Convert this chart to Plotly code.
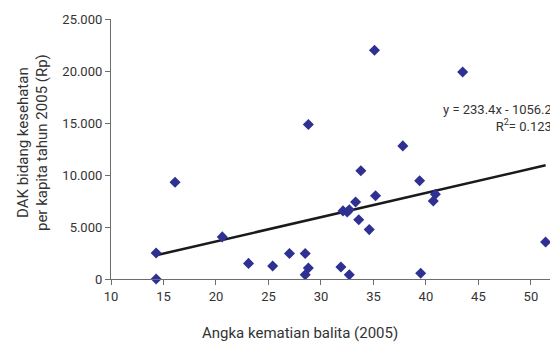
import plotly.graph_objects as go

# Angka kematian balita (2005) vs DAK bidang kesehatan per kapita (Rp)
kematian_balita = [14.3, 14.3, 16.1, 20.6, 23.1, 25.4, 27.0, 28.5, 28.5, 28.8,
                   28.8, 31.9, 32.1, 32.5, 32.7, 32.7, 33.3, 33.6, 33.8, 34.6,
                   35.1, 35.2, 37.8, 39.4, 39.5, 40.7, 40.9, 43.5, 51.4]
dak_per_kapita = [2500, 0, 9300, 4050, 1500, 1250, 2450, 2450, 400, 1050,
                  14850, 1150, 6550, 6450, 6650, 400, 7400, 5700, 10400, 4750,
                  22000, 8000, 12800, 9450, 550, 7500, 8150, 19900, 3550]

# trend line as printed on the chart
slope, intercept = 233.4, -1056.2
trend_x = [14.3, 51.4]
trend_y = [slope * x + intercept for x in trend_x]

x_ticks = [10, 15, 20, 25, 30, 35, 40, 45, 50]
y_ticks = [0, 5000, 10000, 15000, 20000, 25000]

font_family = "Roboto, sans-serif"
text_color = "#333333"
axis_color = "#6d6d6d"

# page body has an 8px margin, so the figure is shrunk to fit the window
W, H = 550, 336
ML, MR, MT, MB = 103, 4, 9, 65
plot_w = W - ML - MR
plot_h = H - MT - MB

fig = go.Figure()

fig.add_trace(go.Scatter(
    x=trend_x, y=trend_y, mode="lines",
    line=dict(color="#1a1a1a", width=2.5),
    showlegend=False, hoverinfo="skip",
))

fig.add_trace(go.Scatter(
    x=kematian_balita, y=dak_per_kapita, mode="markers",
    marker=dict(symbol="diamond", size=8.5, color="#2e3192"),
    cliponaxis=False, showlegend=False,
))

fig.add_annotation(
    x=1.0, y=(279 - 117) / plot_h, xref="paper", yref="paper",
    xanchor="right", yanchor="middle",
    text="y = 233.4x - 1056.2<br>R<sup>2</sup>= 0.123", align="right",
    showarrow=False, font=dict(size=13, color=text_color, family=font_family),
)

fig.add_annotation(
    x=(300 - 111) / plot_w, y=-(333 - 279) / plot_h, xref="paper", yref="paper",
    xanchor="center", yanchor="middle", text="Angka kematian balita (2005)",
    showarrow=False, font=dict(size=15, color=text_color, family=font_family),
)

fig.add_annotation(
    x=-(111 - 33) / plot_w, y=(279 - 142) / plot_h, xref="paper", yref="paper",
    xanchor="center", yanchor="middle", textangle=-90,
    text="DAK bidang kesehatan<br>per kapita tahun 2005 (Rp)",
    showarrow=False, font=dict(size=15, color=text_color, family=font_family),
)

fig.update_layout(
    width=W, height=H,
    margin=dict(l=ML, r=MR, t=MT, b=MB),
    paper_bgcolor="white", plot_bgcolor="white",
    separators=",.",
    font=dict(family=font_family, size=13, color=text_color),
    xaxis=dict(
        range=[10, 52.2], tickvals=x_ticks, showgrid=False, zeroline=False,
        showline=True, linecolor=axis_color, linewidth=1.2,
        ticks="outside", ticklen=5, tickcolor=axis_color, tickfont=dict(size=13),
    ),
    yaxis=dict(
        range=[0, 25000], tickvals=y_ticks, tickformat=",d", showgrid=False, zeroline=False,
        showline=True, linecolor=axis_color, linewidth=1.2,
        ticks="outside", ticklen=5, tickcolor=axis_color, tickfont=dict(size=13),
    ),
)

fig.write_html("out.html")
